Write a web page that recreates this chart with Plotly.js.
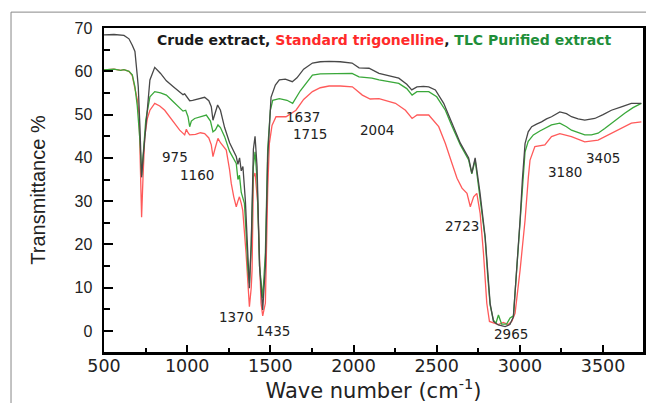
<!DOCTYPE html>
<html>
<head>
<meta charset="utf-8">
<script src="https://cdn.plot.ly/plotly-3.0.1.min.js"></script>
<style>html,body{margin:0;padding:0;background:#fff;}#chart{width:646px;height:403px;}</style>
</head>
<body>
<div id="chart"></div>
<script>
// Crude extract (black)
const crudeX = [500,560,620,650,670,686,700,706,716,726,735,745,755,776,805,840,875,915,955,975,985,1000,1015,1033,1070,1105,1130,1145,1155,1165,1183,1200,1225,1255,1280,1295,1305,1315,1325,1335,1350,1365,1374,1385,1398,1408,1420,1435,1454,1470,1484,1504,1530,1554,1590,1632,1660,1700,1753,1800,1853,1920,1991,2033,2093,2153,2210,2272,2320,2350,2381,2420,2452,2492,2542,2590,2642,2692,2711,2731,2745,2760,2791,2806,2821,2841,2870,2911,2940,2961,2981,3001,3015,3031,3050,3071,3100,3130,3160,3190,3240,3280,3310,3350,3390,3450,3500,3550,3610,3670,3730];
const crudeY = [68.4,68.5,68.3,67.5,66,64.6,59,56.4,47.2,35.5,40,45,48.7,58,60.9,59.5,57.8,56.5,55.3,54.6,54.8,54.0,53.2,53.3,53.6,54,53.2,51.8,48.7,49.8,52.2,51,47,43.5,41.5,40.3,38.5,40,37,38,30,17,9.9,20,42,45,38,15,4.85,15,40,54,56.8,58,58.2,57.6,58.5,60.5,61.9,62.2,62.3,62.2,61.9,60.8,60.7,59.5,59,58.4,57,55.7,56.4,56.5,56.4,55.7,52.6,48,43.4,40,36.5,40,36,32,21.8,14,6.4,2.2,1.4,1.0,1.5,3.3,14,25.6,35,43.3,46,47.2,47.8,48.3,49,49.5,50.6,50.2,49.5,49,48.7,49.1,50,51,51.8,52.6,52.6];

// Standard trigonelline (red)
const stdX = [500,560,600,620,650,670,686,700,711,720,726,735,745,760,776,805,835,865,910,955,985,995,1005,1015,1050,1080,1105,1130,1145,1155,1170,1185,1200,1235,1255,1265,1280,1295,1305,1314,1325,1334,1354,1374,1385,1390,1398,1408,1424,1444,1454,1470,1484,1494,1510,1534,1594,1654,1700,1753,1800,1853,1920,1993,2053,2100,2153,2252,2312,2352,2382,2452,2512,2552,2592,2622,2652,2682,2702,2722,2741,2761,2781,2801,2817,2841,2870,2900,2930,2951,2971,3001,3031,3051,3061,3090,3150,3190,3240,3310,3390,3470,3550,3610,3670,3730];
const stdY = [60.3,60.5,60.2,60.4,60,59,56,53.5,50,35,26.3,36,44.9,49,51,52.6,52,51,48.8,46.4,45.3,46.6,45.8,45.3,45.4,45.8,45.6,44.6,43,40.3,42.5,44.5,43.5,41.8,37.2,34.1,31,28.7,30,31,29.5,27.9,17.9,5.6,10,14,35.6,36.5,29.5,6.4,3.5,6.4,32.6,43.3,47.5,49.5,49.5,51,53.5,55.3,56.2,56.6,56.6,56.4,54.5,53.6,53.7,52.6,51,49.1,49.9,49.9,47.2,43.3,38.7,35.3,33,31.8,28.7,31,31.8,27.2,18,6.4,2.2,1.8,1.5,2,1.5,2.2,4.1,14,25.6,35.6,39.5,42.6,43,44.9,45.6,44.9,43.7,44.1,45.6,46.8,48,48.3];

// TLC Purified extract (green)
const tlcX = [500,560,600,620,650,670,686,700,716,726,738,751,776,805,840,875,915,955,975,991,1005,1015,1025,1045,1080,1115,1140,1155,1170,1185,1200,1225,1255,1280,1295,1305,1314,1325,1344,1355,1365,1374,1385,1398,1408,1420,1435,1454,1470,1484,1500,1514,1554,1600,1634,1680,1753,1800,1871,1991,2033,2111,2153,2210,2272,2320,2352,2381,2452,2500,2552,2590,2642,2692,2711,2731,2745,2760,2791,2806,2821,2841,2856,2871,2890,2920,2941,2961,2981,3001,3015,3031,3050,3081,3120,3150,3190,3240,3280,3310,3350,3390,3430,3470,3510,3550,3590,3630,3680,3730];
const tlcY = [60.3,60.5,60.2,60.4,60,59.2,56.4,52,44,36,42,48.7,54.1,55.3,55,54.5,53,51.4,50.8,51,49.5,47.2,48.5,49.1,49.5,49.9,48.5,46,46.5,47.6,47,44.9,41.5,39.5,38.7,35,36,32,29.5,22,14,11,20,38,41.4,35,15,7.6,18,42,51,53.3,53.7,53.3,52.6,55.5,59.1,59.4,59.5,59.5,58.7,58.4,58,57.7,57.2,56,54.5,55.3,55.3,54.1,51,47.5,43,39.5,36.3,39.5,35.5,31.5,21.5,13,6,2.5,1.8,3.7,1.6,1.6,3,3.5,14,25.6,33,41.4,43.8,45.3,46.2,46.8,47.6,48,47.2,46.4,45.8,45.3,45.3,45.7,46.8,48,49.2,50.3,51.6,52.6];

// Peak labels
const peakText = ["975","1160","1370","1435","1637","1715","2004","2723","2965","3180","3405"];
const peakX = [925,1057,1296,1518,1698,1740,2141,2650,2949,3272,3500];
const peakY = [40.2,36,3.2,0,49.4,45.5,46.4,24.2,-0.7,36.7,40];

const xTicks = [500,1000,1500,2000,2500,3000,3500];
const yTicks = [0,10,20,30,40,50,60,70];

const traces = [
  {x: stdX, y: stdY, name: "Standard trigonelline", mode: "lines", line: {color: "#ff5a5a", width: 1.3}},
  {x: tlcX, y: tlcY, name: "TLC Purified extract", mode: "lines", line: {color: "#3aa83a", width: 1.3}},
  {x: crudeX, y: crudeY, name: "Crude extract", mode: "lines", line: {color: "#484848", width: 1.3}}
];

const annotations = peakText.map((t, i) => ({
  x: peakX[i], y: peakY[i], xref: "x", yref: "y", text: t, showarrow: false,
  font: {family: "DejaVu Sans", size: 13.5, color: "#222"}
}));
annotations.push({
  xref: "paper", yref: "paper", x: 0.0946, y: 0.963, xanchor: "left", yanchor: "middle",
  showarrow: false,
  text: "<span style='color:#1a1a1a'>Crude extract, </span><span style='color:#ff2a2a'>Standard trigonelline</span><span style='color:#1a1a1a'>, </span><span style='color:#1f8f3a'>TLC Purified extract</span>",
  font: {family: "DejaVu Sans", size: 14, color: "#1a1a1a", weight: "bold"}
});

const layout = {
  width: 646, height: 403,
  margin: {l: 104, r: 3, t: 28, b: 51, pad: 0},
  paper_bgcolor: "#fff", plot_bgcolor: "#fff",
  showlegend: false,
  xaxis: {
    range: [500, 3740], tickmode: "array", tickvals: xTicks,
    ticks: "inside", ticklen: 7, tickwidth: 2, tickcolor: "#000",
    minor: {dtick: 250, tick0: 500, ticks: "inside", ticklen: 4, tickwidth: 2, tickcolor: "#000", showgrid: false},
    showline: true, linecolor: "#000", linewidth: 2.5, mirror: true,
    showgrid: false, zeroline: false,
    tickfont: {family: "DejaVu Sans", size: 17.5, color: "#222"},
    ticklabelstandoff: -4,
    title: {text: "Wave number (cm<sup>-1</sup>)", font: {family: "DejaVu Sans", size: 21, color: "#222"}, standoff: 3}
  },
  yaxis: {
    range: [-4.85, 70], tickmode: "array", tickvals: yTicks,
    ticks: "inside", ticklen: 9, tickwidth: 2, tickcolor: "#000",
    minor: {dtick: 5, tick0: 0, ticks: "inside", ticklen: 6, tickwidth: 2, tickcolor: "#000", showgrid: false},
    showline: true, linecolor: "#000", linewidth: 2.5, mirror: true,
    showgrid: false, zeroline: false,
    tickfont: {family: "Liberation Sans, Arial", size: 16, color: "#222"},
    ticklabelstandoff: 6,
    title: {text: "Transmittance %", font: {family: "Liberation Sans, Arial", size: 20, color: "#222"}, standoff: 24}
  },
  annotations: annotations,
  shapes: [
    {type: "line", xref: "paper", yref: "paper", x0: -0.1725, x1: -0.1725, y0: 1.049, y1: -0.2, line: {color: "#888", width: 1}},
    {type: "line", xref: "paper", yref: "paper", x0: -0.1725, x1: 1.01, y0: 1.049, y1: 1.049, line: {color: "#888", width: 1}}
  ]
};

Plotly.newPlot("chart", traces, layout, {staticPlot: true, displayModeBar: false});
</script>
</body>
</html>
